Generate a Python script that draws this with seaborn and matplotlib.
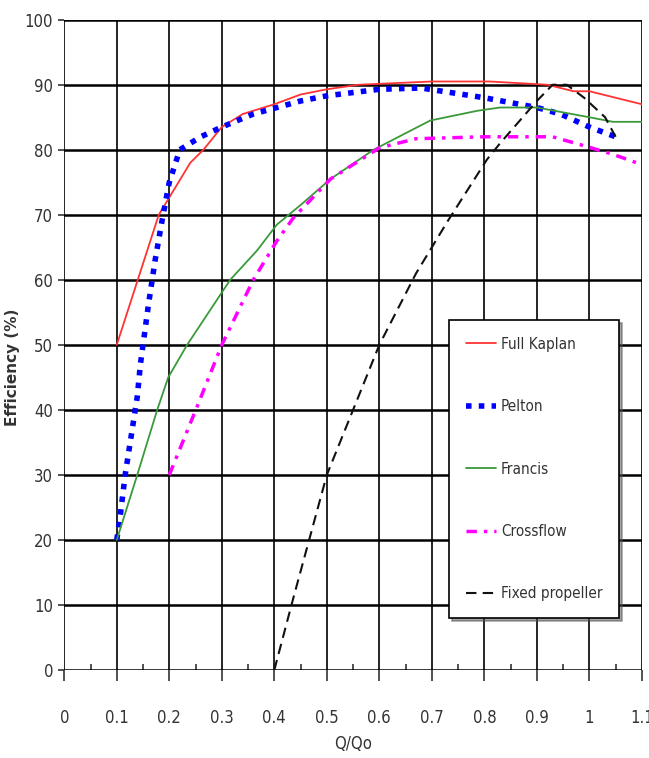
import pandas as pd
import matplotlib.pyplot as plt
import seaborn as sns
from matplotlib.ticker import MultipleLocator

# Datos
kaplan_x = [0.10, 0.14, 0.18, 0.195, 0.24, 0.265, 0.30, 0.34, 0.40, 0.45, 0.50, 0.56, 0.70, 0.81, 0.92, 0.97, 1.00, 1.10]
kaplan_y = [50, 60, 70, 72, 78, 80, 83.5, 85.5, 87, 88.5, 89.3, 90, 90.5, 90.5, 90, 89, 89, 87]

pelton_x = [0.10, 0.107, 0.116, 0.139, 0.145, 0.16, 0.173, 0.186, 0.20, 0.22, 0.26, 0.30, 0.36, 0.45, 0.50, 0.60, 0.68, 0.80, 0.90, 0.945, 1.00, 1.05]
pelton_y = [20, 24, 30, 42, 47, 56, 63, 69, 75, 80, 82, 83.5, 85.5, 87.5, 88.3, 89.3, 89.5, 88, 86.5, 85.5, 83.5, 82]

francis_x = [0.10, 0.139, 0.177, 0.198, 0.234, 0.316, 0.367, 0.405, 0.45, 0.507, 0.589, 0.697, 0.787, 0.83, 0.90, 1.00, 1.045, 1.10]
francis_y = [20, 30, 40, 45, 50, 60, 64.5, 68.5, 71.5, 75.5, 80, 84.5, 86, 86.5, 86.5, 85, 84.3, 84.3]

cross_x = [0.20, 0.253, 0.30, 0.36, 0.405, 0.436, 0.507, 0.60, 0.67, 0.80, 0.93, 0.995, 1.045, 1.09]
cross_y = [30, 40.5, 50, 60, 66, 69.5, 75.5, 80.3, 81.7, 82, 82, 80.5, 79.3, 78]

prop_x = [0.40, 0.436, 0.50, 0.58, 0.60, 0.67, 0.73, 0.805, 0.83, 0.90, 0.93, 0.957, 0.99, 1.03, 1.05]
prop_y = [0, 11, 30, 46, 50, 61, 69, 78.5, 81, 87.5, 90, 90, 88, 85, 82]

x_labels = ['0', '0.1', '0.2', '0.3', '0.4', '0.5', '0.6', '0.7', '0.8', '0.9', '1', '1.1']

series = [
    ('Full Kaplan', kaplan_x, kaplan_y, '#ff3333', '-', 1.3),
    ('Pelton', pelton_x, pelton_y, '#0000ff', (0, (1, 1.3)), 4.0),
    ('Francis', francis_x, francis_y, '#3a9a3a', '-', 1.3),
    ('Crossflow', cross_x, cross_y, '#ff00ff', (0, (3, 2, 1, 2)), 2.5),
    ('Fixed propeller', prop_x, prop_y, '#111111', (0, (5, 3)), 1.5),
]

sns.set_style('white')
plt.rcParams['font.family'] = ['DejaVu Sans']
plt.rcParams['font.stretch'] = 'condensed'

fig = plt.figure(figsize=(6.49, 7.58), dpi=100)
ax = fig.add_axes([0.099, 0.116, 0.890, 0.858])

for nombre, xs, ys, color, ls, lw in series:
    df = pd.DataFrame({'x': xs, 'y': ys})
    sns.lineplot(data=df, x='x', y='y', ax=ax, color=color, linestyle=ls,
                 linewidth=lw, label=nombre, sort=False, zorder=3)

ax.set_xlim(0, 1.1)
ax.set_ylim(0, 100)
ax.set_xticks([i / 10 for i in range(12)])
ax.set_xticklabels(x_labels)
ax.xaxis.set_minor_locator(MultipleLocator(0.05))
ax.yaxis.set_major_locator(MultipleLocator(10))

ax.grid(False)
for i in range(11):
    ax.axhline(i * 10, color='black', lw=1.8, zorder=1)
for i in range(12):
    ax.axvline(i / 10, color='black', lw=1.2, zorder=1)

for s in ax.spines.values():
    s.set_visible(False)

ax.tick_params(axis='x', which='major', bottom=True, direction='out', length=8,
               width=1.2, pad=20, labelsize=12, colors='#333333')
ax.tick_params(axis='x', which='minor', bottom=True, direction='in', length=4,
               width=1.2, colors='#333333')
ax.tick_params(axis='y', which='major', left=True, direction='out', length=4,
               width=1.2, pad=4, labelsize=12, colors='#333333')

ax.set_xlabel('Q/Qo', fontsize=12, color='#333333', labelpad=6)
ax.set_ylabel('Efficiency (%)', fontsize=11, fontweight='bold',
              fontstretch='normal', color='#333333')
ax.yaxis.set_label_coords(-0.076, 0.465)

leg = ax.legend(loc='lower left', bbox_to_anchor=(0.666, 0.08), fontsize=11,
                labelspacing=3.1, handlelength=2.0, handletextpad=0.3,
                borderpad=1.1, borderaxespad=0, fancybox=False, framealpha=1,
                shadow=True, edgecolor='black')
leg.get_frame().set_linewidth(1.2)
for t in leg.get_texts():
    t.set_color('#333333')

plt.savefig('out.png', dpi=100)
